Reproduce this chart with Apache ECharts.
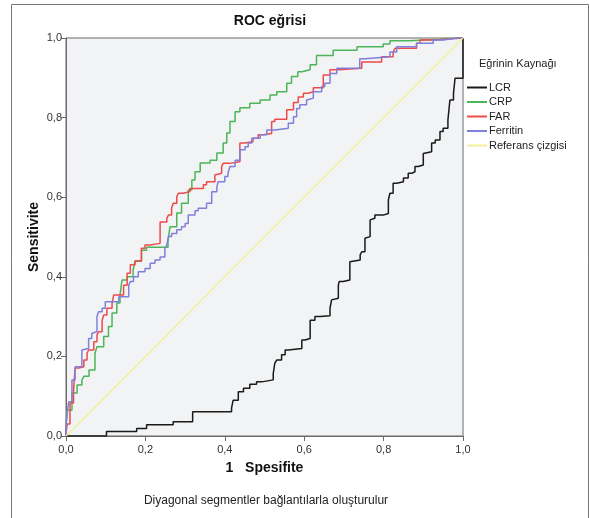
<!DOCTYPE html>
<html>
<head>
<meta charset="utf-8">
<script src="https://cdn.jsdelivr.net/npm/echarts@6/dist/echarts.min.js"></script>
<style>html,body{margin:0;padding:0;background:#fff;}#c{width:590px;height:518px;}</style>
</head>
<body>
<div id="c"></div>
<script>
var seriesNames = ['LCR', 'CRP', 'FAR', 'Ferritin', 'Referans çizgisi'];
var tickValues = [0, 0.2, 0.4, 0.6, 0.8, 1.0];

var lcrPoints = [[0,0],[0.102,0],[0.102,0.011],[0.178,0.011],[0.178,0.019],[0.203,0.019],[0.203,0.028],[0.27,0.028],[0.27,0.036],[0.319,0.036],[0.321,0.061],[0.417,0.061],[0.421,0.07],[0.434,0.09],[0.447,0.111],[0.463,0.12],[0.48,0.13],[0.493,0.136],[0.522,0.141],[0.526,0.157],[0.531,0.183],[0.543,0.191],[0.552,0.204],[0.56,0.216],[0.594,0.22],[0.602,0.241],[0.615,0.245],[0.615,0.275],[0.627,0.291],[0.64,0.3],[0.665,0.302],[0.669,0.321],[0.673,0.342],[0.686,0.346],[0.688,0.379],[0.698,0.388],[0.715,0.392],[0.72,0.438],[0.741,0.442],[0.745,0.455],[0.753,0.463],[0.756,0.497],[0.766,0.501],[0.768,0.543],[0.778,0.547],[0.799,0.555],[0.812,0.559],[0.816,0.593],[0.824,0.61],[0.833,0.635],[0.85,0.639],[0.862,0.648],[0.871,0.66],[0.879,0.664],[0.887,0.677],[0.9,0.681],[0.904,0.71],[0.921,0.714],[0.93,0.736],[0.942,0.744],[0.95,0.765],[0.962,0.773],[0.967,0.794],[0.976,0.844],[0.98,0.861],[0.984,0.899],[1,0.899],[1,1]];

var crpPoints = [[0,0],[0.003,0.03],[0.015,0.065],[0.028,0.108],[0.04,0.128],[0.045,0.14],[0.058,0.15],[0.073,0.166],[0.078,0.208],[0.095,0.224],[0.107,0.25],[0.116,0.275],[0.128,0.309],[0.136,0.334],[0.141,0.354],[0.154,0.392],[0.169,0.4],[0.174,0.417],[0.19,0.44],[0.203,0.467],[0.212,0.474],[0.257,0.474],[0.262,0.492],[0.279,0.526],[0.291,0.56],[0.308,0.585],[0.317,0.618],[0.325,0.643],[0.338,0.664],[0.363,0.686],[0.38,0.693],[0.396,0.711],[0.405,0.736],[0.413,0.761],[0.426,0.79],[0.438,0.815],[0.463,0.825],[0.489,0.836],[0.514,0.844],[0.531,0.857],[0.556,0.865],[0.568,0.886],[0.584,0.903],[0.594,0.915],[0.615,0.92],[0.631,0.933],[0.673,0.956],[0.733,0.969],[0.799,0.978],[0.816,0.985],[0.866,0.993],[0.942,0.997],[0.984,1],[1,1]];

var farPoints = [[0,0],[0.003,0.008],[0.01,0.03],[0.019,0.083],[0.023,0.116],[0.032,0.171],[0.045,0.174],[0.053,0.191],[0.057,0.208],[0.07,0.216],[0.078,0.237],[0.082,0.254],[0.091,0.262],[0.095,0.291],[0.103,0.304],[0.116,0.321],[0.12,0.333],[0.128,0.354],[0.145,0.354],[0.154,0.379],[0.162,0.409],[0.174,0.43],[0.19,0.44],[0.199,0.472],[0.212,0.48],[0.237,0.484],[0.237,0.53],[0.254,0.538],[0.258,0.547],[0.266,0.555],[0.27,0.572],[0.279,0.585],[0.283,0.601],[0.295,0.61],[0.312,0.614],[0.346,0.622],[0.354,0.631],[0.375,0.639],[0.38,0.656],[0.392,0.66],[0.396,0.677],[0.413,0.685],[0.438,0.689],[0.451,0.736],[0.471,0.74],[0.484,0.748],[0.497,0.757],[0.518,0.76],[0.526,0.79],[0.556,0.796],[0.573,0.82],[0.585,0.838],[0.598,0.852],[0.61,0.861],[0.623,0.865],[0.648,0.875],[0.665,0.907],[0.686,0.92],[0.745,0.924],[0.753,0.94],[0.795,0.94],[0.824,0.953],[0.829,0.965],[0.883,0.974],[0.892,0.987],[0.93,0.995],[0.934,1],[1,1]];

var ferritinPoints = [[0,0],[0.003,0.023],[0.007,0.058],[0.015,0.086],[0.015,0.141],[0.023,0.141],[0.028,0.174],[0.04,0.174],[0.045,0.216],[0.057,0.22],[0.065,0.245],[0.07,0.258],[0.078,0.262],[0.082,0.3],[0.091,0.312],[0.099,0.321],[0.116,0.337],[0.133,0.337],[0.158,0.35],[0.162,0.379],[0.17,0.388],[0.182,0.4],[0.199,0.413],[0.212,0.421],[0.224,0.434],[0.237,0.442],[0.249,0.45],[0.254,0.471],[0.258,0.48],[0.266,0.501],[0.279,0.509],[0.291,0.518],[0.3,0.526],[0.308,0.534],[0.325,0.555],[0.333,0.566],[0.354,0.572],[0.367,0.585],[0.38,0.614],[0.383,0.626],[0.4,0.639],[0.408,0.652],[0.413,0.66],[0.426,0.677],[0.438,0.693],[0.451,0.719],[0.459,0.727],[0.468,0.736],[0.489,0.748],[0.506,0.757],[0.526,0.769],[0.56,0.773],[0.573,0.786],[0.581,0.802],[0.589,0.823],[0.606,0.832],[0.61,0.844],[0.623,0.849],[0.644,0.865],[0.652,0.878],[0.665,0.886],[0.682,0.911],[0.74,0.924],[0.753,0.948],[0.816,0.953],[0.833,0.965],[0.883,0.978],[0.925,0.987],[0.95,0.995],[0.984,1],[1,1]];

var referencePoints = [[0,0],[1,1]];

var colors = ['#1a1a1a', '#4cb55a', '#ee4a4a', '#7f80dc', '#f4ef9a'];
var FONT = 'Liberation Sans, Arial, sans-serif';

var chart = echarts.init(document.getElementById('c'), null, {renderer: 'canvas'});

function fmt(v) { return v.toFixed(1).replace('.', ','); }

function curve(name, data, color, step) {
  return {
    name: name, type: 'line', data: data, step: step ? 'start' : false,
    showSymbol: false, symbol: 'none', animation: false, silent: true,
    lineStyle: {color: color, width: 1.5}, itemStyle: {color: color}
  };
}

chart.setOption({
  animation: false,
  textStyle: {fontFamily: FONT},
  title: {
    text: 'ROC eğrisi', left: 265, top: 9, textAlign: 'center',
    textStyle: {fontFamily: FONT, fontSize: 14, fontWeight: 'bold', color: '#111'}
  },
  grid: {
    left: 66, top: 38, width: 397, height: 398,
    show: true, backgroundColor: '#f2f3f5', borderColor: '#6a6a6a', borderWidth: 1
  },
  legend: {
    orient: 'vertical', left: 462, top: 77, itemWidth: 20, itemHeight: 2, itemGap: 3.5,
    icon: 'rect', data: seriesNames,
    textStyle: {fontFamily: FONT, fontSize: 11, color: '#222', padding: [0, 0, 0, -3]}
  },
  xAxis: {
    type: 'value', min: 0, max: 1, interval: 0.2,
    name: '1   Spesifite', nameLocation: 'middle', nameGap: 25,
    nameTextStyle: {fontFamily: FONT, fontSize: 14, fontWeight: 'bold', color: '#111'},
    axisLine: {show: true, lineStyle: {color: '#6a6a6a'}},
    axisTick: {show: true, length: 5, lineStyle: {color: '#6a6a6a'}},
    axisLabel: {formatter: fmt, fontFamily: FONT, fontSize: 11, color: '#333', margin: 8},
    splitLine: {show: false}
  },
  yAxis: {
    type: 'value', min: 0, max: 1, interval: 0.2,
    name: 'Sensitivite', nameLocation: 'middle', nameGap: 25, nameMoveOverlap: false,
    nameTextStyle: {fontFamily: FONT, fontSize: 14, fontWeight: 'bold', color: '#111'},
    axisLine: {show: true, lineStyle: {color: '#6a6a6a'}},
    axisTick: {show: true, length: 5, lineStyle: {color: '#6a6a6a'}},
    axisLabel: {formatter: fmt, fontFamily: FONT, fontSize: 11, color: '#333', margin: 4},
    splitLine: {show: false}
  },
  graphic: [
    {type: 'rect', shape: {x: 11.5, y: 4.5, width: 577, height: 530}, style: {fill: 'none', stroke: '#777', lineWidth: 1}, silent: true, z: -10},
    {type: 'text', x: 479, y: 58, style: {text: 'Eğrinin Kaynağı', fontFamily: FONT, fontSize: 11, fill: '#222'}},
    {type: 'text', x: 266, y: 495, style: {text: 'Diyagonal segmentler bağlantılarla oluşturulur', fontFamily: FONT, fontSize: 12, fill: '#222', textAlign: 'center'}}
  ],
  series: [
    curve(seriesNames[0], lcrPoints, colors[0], true),
    curve(seriesNames[1], crpPoints, colors[1], true),
    curve(seriesNames[2], farPoints, colors[2], true),
    curve(seriesNames[3], ferritinPoints, colors[3], true),
    curve(seriesNames[4], referencePoints, colors[4], false)
  ]
});
</script>
</body>
</html>
